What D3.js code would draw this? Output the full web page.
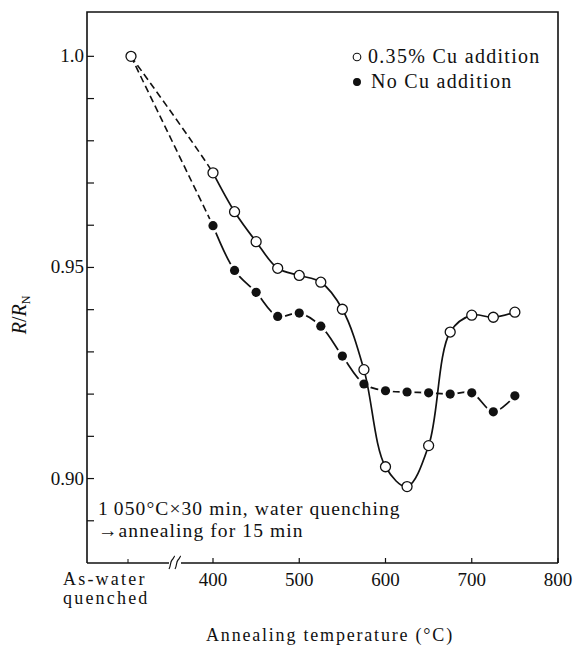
<!DOCTYPE html>
<html>
<head>
<meta charset="utf-8">
<script src="https://cdn.jsdelivr.net/npm/d3@7"></script>
<style>
  html, body { margin: 0; padding: 0; background: #fff; }
  svg text { font-family: "Liberation Serif", "DejaVu Serif", serif; fill: #111; }
</style>
</head>
<body>
<svg id="chart" width="574" height="648"></svg>
<script>
// Resistance ratio R/R_N after annealing
const asQuenchedLabel = ["As-water", "quenched"];
const asQuenchedValue = 1.0;
const temperatures = [400, 425, 450, 475, 500, 525, 550, 575, 600, 625, 650, 675, 700, 725, 750];
const cuAdded = [0.9724, 0.9632, 0.9561, 0.9498, 0.9481, 0.9465, 0.9401, 0.9258, 0.9028, 0.8981, 0.9078, 0.9347, 0.9387, 0.9382, 0.9394];
const noCu   = [0.9599, 0.9493, 0.9441, 0.9384, 0.9392, 0.9361, 0.9290, 0.9224, 0.9208, 0.9205, 0.9203, 0.9200, 0.9203, 0.9158, 0.9196];
const seriesNames = ["0.35% Cu addition", "No Cu addition"];
const xTickValues = [400, 500, 600, 700, 800];
const yTickValues = [0.90, 0.95, 1.0];
const yTickLabels = ["0.90", "0.95", "1.0"];
const yMinorTicks = d3.range(89, 101).map(v => v / 100);
const noteLines = ["1\u2009050\u00B0C\u00D730 min, water quenching", "\u2192annealing for 15 min"];
const xTitle = "Annealing temperature (\u00B0C)";

const svg = d3.select("#chart");
const frame = { left: 87, right: 558, top: 12, bottom: 563 };

const x = d3.scaleLinear().domain([400, 800]).range([213, frame.right]);
const y = d3.scaleLinear().domain([0.88, 1.0105]).range([frame.bottom, frame.top]);
const xq = frame.left + 44; // position of the as-quenched column

const ink = "#111";

// Frame: left, top, right and a broken bottom axis
const breakX = 175;
svg.append("path")
  .attr("d", `M${frame.left},${frame.bottom}V${frame.top}H${frame.right}V${frame.bottom}`)
  .attr("fill", "none").attr("stroke", ink).attr("stroke-width", 1.6);
svg.append("line")
  .attr("x1", frame.left).attr("x2", breakX - 6).attr("y1", frame.bottom).attr("y2", frame.bottom)
  .attr("stroke", ink).attr("stroke-width", 1.6);
svg.append("line")
  .attr("x1", breakX + 6).attr("x2", frame.right).attr("y1", frame.bottom).attr("y2", frame.bottom)
  .attr("stroke", ink).attr("stroke-width", 1.6);
[-3, 3].forEach(dx => {
  const cx = breakX + dx;
  svg.append("path")
    .attr("d", `M${cx - 3},${frame.bottom + 6}C${cx - 1},${frame.bottom + 3} ${cx - 2},${frame.bottom - 1} ${cx},${frame.bottom - 3}S${cx + 2},${frame.bottom - 7} ${cx + 3},${frame.bottom - 7}`)
    .attr("fill", "none").attr("stroke", ink).attr("stroke-width", 1.2);
});

// Y ticks (inward) and labels
svg.selectAll(".ytick").data(yMinorTicks).join("line")
  .attr("x1", frame.left).attr("x2", frame.left + 7)
  .attr("y1", d => y(d)).attr("y2", d => y(d))
  .attr("stroke", ink).attr("stroke-width", 1.2);
svg.selectAll(".ylab").data(yTickValues).join("text")
  .attr("x", frame.left - 3).attr("y", d => y(d) + 6)
  .attr("text-anchor", "end").attr("font-size", 19)
  .text((d, i) => yTickLabels[i]);

// X ticks (inward) and labels
svg.selectAll(".xtick").data(xTickValues).join("line")
  .attr("x1", d => x(d)).attr("x2", d => x(d))
  .attr("y1", frame.bottom).attr("y2", frame.bottom - 5)
  .attr("stroke", ink).attr("stroke-width", 1.2);
svg.append("line")
  .attr("x1", xq - 3).attr("x2", xq - 3).attr("y1", frame.bottom).attr("y2", frame.bottom - 4)
  .attr("stroke", ink).attr("stroke-width", 1);
svg.selectAll(".xlab").data(xTickValues).join("text")
  .attr("x", d => x(d)).attr("y", frame.bottom + 23)
  .attr("text-anchor", "middle").attr("font-size", 19)
  .text(d => d);
svg.append("text")
  .attr("x", 63).attr("y", frame.bottom + 22)
  .attr("font-size", 18).attr("letter-spacing", 2.2)
  .selectAll("tspan").data(asQuenchedLabel).join("tspan")
  .attr("x", 63).attr("dy", (d, i) => i ? 19 : 0)
  .text(d => d);

// Axis titles
svg.append("text")
  .attr("x", 330).attr("y", 641).attr("text-anchor", "middle")
  .attr("font-size", 18).attr("letter-spacing", 1.8)
  .text(xTitle);
const yTitle = svg.append("text")
  .attr("transform", "translate(26,315) rotate(-90)")
  .attr("text-anchor", "middle").attr("font-size", 20);
yTitle.append("tspan").attr("font-style", "italic").text("R");
yTitle.append("tspan").text("/");
yTitle.append("tspan").attr("font-style", "italic").text("R");
yTitle.append("tspan").attr("font-size", 12).attr("dy", 4).text("N");

// Heat-treatment note
const note = svg.append("text")
  .attr("x", 98).attr("y", 515).attr("font-size", 19.5).attr("letter-spacing", 1.1);
note.append("tspan").attr("x", 98).text(noteLines[0]);
note.append("tspan").attr("x", 98).attr("dy", 22).text(noteLines[1]);

// Series geometry
const quenchPoint = { px: xq, py: y(asQuenchedValue) };
const toPoints = vals => temperatures.map((t, i) => ({ px: x(t), py: y(vals[i]) }));
const cuPts = toPoints(cuAdded);
const noPts = toPoints(noCu);
const line = d3.line().x(d => d.px).y(d => d.py).curve(d3.curveCatmullRom.alpha(0.5));

// Dashed lead-in from the as-quenched state to 400 °C, clipped at the first annealed point
svg.append("clipPath").attr("id", "leadClip")
  .append("rect").attr("x", 0).attr("y", 0).attr("width", x(400)).attr("height", 648);

// No Cu addition: curve broken around each marker
svg.append("path")
  .attr("d", line([quenchPoint, noPts[0], noPts[1]]))
  .attr("clip-path", "url(#leadClip)")
  .attr("fill", "none").attr("stroke", ink).attr("stroke-width", 1.6).attr("stroke-dasharray", "7,4");
svg.append("path")
  .attr("d", line(noPts))
  .attr("fill", "none").attr("stroke", ink).attr("stroke-width", 1.7);
svg.selectAll(".halo").data(noPts).join("circle")
  .attr("cx", d => d.px).attr("cy", d => d.py).attr("r", 7.5).attr("fill", "#fff");
svg.selectAll(".dotNo").data(noPts).join("circle")
  .attr("cx", d => d.px).attr("cy", d => d.py).attr("r", 4.6).attr("fill", ink);

// 0.35% Cu addition
svg.append("path")
  .attr("d", line([quenchPoint, cuPts[0], cuPts[1]]))
  .attr("clip-path", "url(#leadClip)")
  .attr("fill", "none").attr("stroke", ink).attr("stroke-width", 1.6).attr("stroke-dasharray", "7,4");
svg.append("path")
  .attr("d", line(cuPts))
  .attr("fill", "none").attr("stroke", ink).attr("stroke-width", 1.7);
svg.selectAll(".dotCu").data([quenchPoint, ...cuPts]).join("circle")
  .attr("cx", d => d.px).attr("cy", d => d.py).attr("r", 5)
  .attr("fill", "#fff").attr("stroke", ink).attr("stroke-width", 1.3);

// Legend
const legend = svg.append("g");
const legendRows = [{ name: seriesNames[0], open: true, yy: 57, tx: 368 }, { name: seriesNames[1], open: false, yy: 82, tx: 371 }];
legend.selectAll("circle").data(legendRows).join("circle")
  .attr("cx", 357).attr("cy", d => d.yy).attr("r", d => d.open ? 3.8 : 3.4)
  .attr("fill", d => d.open ? "#fff" : ink).attr("stroke", ink).attr("stroke-width", 1.1);
legend.selectAll("text").data(legendRows).join("text")
  .attr("x", d => d.tx).attr("y", d => d.yy + 6)
  .attr("font-size", 20).attr("letter-spacing", 1.3)
  .text(d => d.name);
</script>
</body>
</html>
